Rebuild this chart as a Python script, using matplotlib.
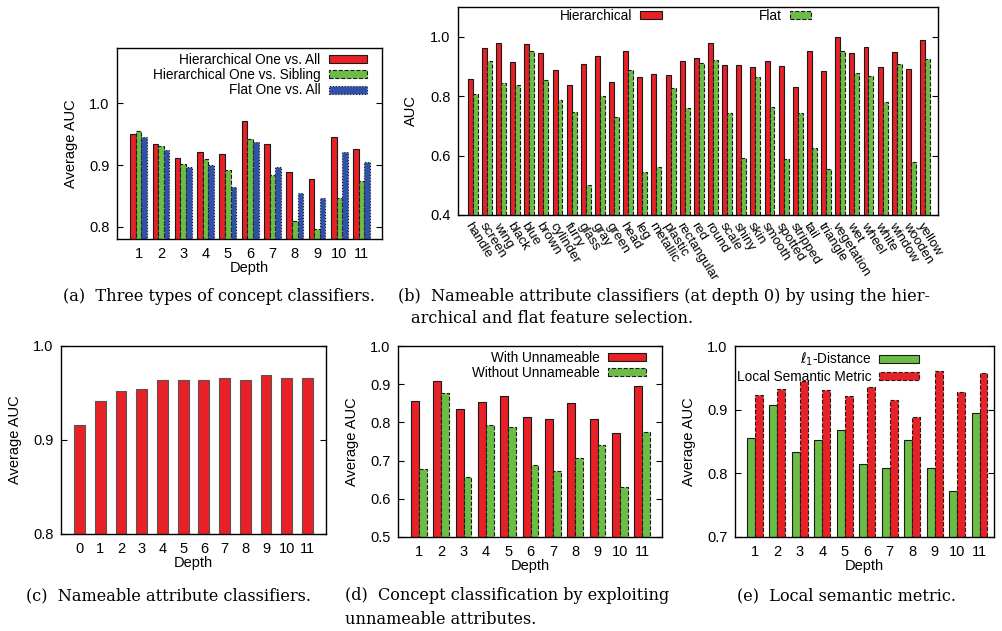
import numpy as np
import matplotlib
matplotlib.use("Agg")
from matplotlib.figure import Figure
from matplotlib.ticker import FormatStrFormatter

plot_font = ["Liberation Sans", "DejaVu Sans"]
caption_font = ["DejaVu Serif"]

RED = "#e82127"
GREEN = "#6cbd45"
BLUE = "#2f52a8"
EDGE = "#1a1a1a"

W, H = 1003, 631

# (a) three types of concept classifiers, depth 1..11
depth = np.arange(1, 12)
hier_one_vs_all = [0.950, 0.934, 0.912, 0.922, 0.918, 0.971, 0.934, 0.888, 0.878, 0.945, 0.926]
hier_one_vs_sibling = [0.956, 0.931, 0.901, 0.910, 0.892, 0.942, 0.884, 0.810, 0.796, 0.846, 0.874]
flat_one_vs_all = [0.946, 0.925, 0.897, 0.900, 0.865, 0.938, 0.897, 0.855, 0.846, 0.922, 0.905]

# (b) nameable attribute classifiers at depth 0
attributes = ["handle", "screen", "wing", "black", "blue", "brown", "cylinder", "furry",
              "glass", "gray", "green", "head", "leg", "metallic", "plastic", "rectangular",
              "red", "round", "scale", "shiny", "skin", "smooth", "spotted", "stripped",
              "tail", "triangle", "vegetation", "wet", "wheel", "white", "window", "wooden",
              "yellow"]
attr_hierarchical = [0.857, 0.963, 0.978, 0.916, 0.974, 0.946, 0.888, 0.837,
                     0.908, 0.936, 0.846, 0.953, 0.864, 0.874, 0.871, 0.919,
                     0.930, 0.979, 0.904, 0.904, 0.898, 0.917, 0.903, 0.830,
                     0.953, 0.883, 0.999, 0.945, 0.967, 0.897, 0.949, 0.893,
                     0.989]
attr_flat = [0.807, 0.918, 0.843, 0.837, 0.952, 0.854, 0.788, 0.745,
             0.502, 0.801, 0.729, 0.888, 0.546, 0.562, 0.826, 0.761,
             0.913, 0.921, 0.744, 0.593, 0.863, 0.762, 0.589, 0.744,
             0.626, 0.554, 0.951, 0.878, 0.867, 0.780, 0.908, 0.578,
             0.924]

# (c) nameable attribute classifiers, depth 0..11
depth_all = np.arange(0, 12)
nameable_auc = [0.916, 0.942, 0.952, 0.954, 0.964, 0.964, 0.964, 0.966, 0.964, 0.969, 0.966, 0.966]

# (d) concept classification with / without unnameable attributes
with_unnameable = [0.855, 0.908, 0.834, 0.854, 0.868, 0.815, 0.808, 0.852, 0.808, 0.771, 0.895]
without_unnameable = [0.679, 0.877, 0.656, 0.794, 0.788, 0.688, 0.672, 0.706, 0.740, 0.631, 0.775]

# (e) local semantic metric
l1_distance = [0.855, 0.907, 0.834, 0.853, 0.868, 0.815, 0.808, 0.852, 0.808, 0.772, 0.895]
local_semantic = [0.923, 0.932, 0.945, 0.931, 0.922, 0.936, 0.915, 0.888, 0.961, 0.928, 0.957]


def add_axes_px(figure, x0, y0, x1, y1):
    return figure.add_axes([x0 / W, 1 - y1 / H, (x1 - x0) / W, (y1 - y0) / H])


def style_axes(ax, ylim, yticks, xlim, xticks):
    ax.set_xlim(*xlim)
    ax.set_ylim(*ylim)
    ax.set_yticks(yticks)
    ax.set_xticks(xticks)
    ax.yaxis.set_major_formatter(FormatStrFormatter("%.1f"))
    ax.tick_params(axis="y", direction="in", length=4, width=0.8, right=True, pad=5.5, labelsize=10.5)
    ax.tick_params(axis="x", length=0, pad=5.5, labelsize=10.5)
    for spine in ax.spines.values():
        spine.set_linewidth(1.0)
        spine.set_color("black")


def draw_groups(ax, x, series, width):
    n = len(series)
    styles = ["-", "--", ":"]
    for i, (values, color, label) in enumerate(series):
        offset = (i - (n - 1) / 2) * width
        ax.bar(x + offset, values, width=width, color=color, edgecolor=EDGE,
               linewidth=0.8, linestyle=styles[i], label=label)


def gnuplot_legend(ax, anchor, handlelength, loc="upper right", ncol=1, columnspacing=2.0):
    ax.legend(loc=loc, bbox_to_anchor=anchor, frameon=False, markerfirst=False, ncol=ncol,
              prop={"family": plot_font, "size": 9.8}, handlelength=handlelength,
              handleheight=0.55, handletextpad=0.6, labelspacing=0.1, borderpad=0,
              borderaxespad=0, columnspacing=columnspacing)


def caption(figure, x, y, text):
    figure.text(x / W, 1 - y / H, text, family=caption_font, size=11.6, ha="left", va="center")


figure = Figure(figsize=(W / 100, H / 100), dpi=100)
figure.patch.set_facecolor("white")
matplotlib.rcParams["font.family"] = plot_font

# (a)
ax = add_axes_px(figure, 117, 48, 382, 239)
draw_groups(ax, depth, [(hier_one_vs_all, RED, "Hierarchical One vs. All"),
                        (hier_one_vs_sibling, GREEN, "Hierarchical One vs. Sibling"),
                        (flat_one_vs_all, BLUE, "Flat One vs. All")], 0.25)
style_axes(ax, (0.78, 1.09), [0.8, 0.9, 1.0], (0.03, 11.91), depth)
ax.set_xlabel("Depth", fontsize=10.5, labelpad=0)
ax.set_ylabel("Average AUC", fontsize=10.5, labelpad=8)
gnuplot_legend(ax, (0.943, 0.975), 2.8)

# (b)
ax = add_axes_px(figure, 458, 7, 938, 215)
xb = np.arange(len(attributes))
draw_groups(ax, xb, [(attr_hierarchical, RED, "Hierarchical"),
                     (attr_flat, GREEN, "Flat")], 0.35)
style_axes(ax, (0.4, 1.1), [0.4, 0.6, 0.8, 1.0], (-1.04, 32.92), xb)
ax.set_xticklabels(attributes, rotation=-58, ha="left", va="top", rotation_mode="anchor", fontsize=9.5)
ax.tick_params(axis="x", pad=4)
ax.set_ylabel("AUC", fontsize=10.5, labelpad=9)
gnuplot_legend(ax, (0.474, 0.99), 1.6, loc="upper center", ncol=2, columnspacing=7.1)

# (c)
ax = add_axes_px(figure, 61, 346, 326, 534)
ax.bar(depth_all, nameable_auc, width=0.52, color=RED, edgecolor="#555555", linewidth=0.8)
style_axes(ax, (0.8, 1.0), [0.8, 0.9, 1.0], (-0.89, 11.89), depth_all)
ax.set_xlabel("Depth", fontsize=10.5, labelpad=0)
ax.set_ylabel("Average AUC", fontsize=10.5, labelpad=8)

# (d)
ax = add_axes_px(figure, 398, 346, 662, 537)
draw_groups(ax, depth, [(with_unnameable, RED, "With Unnameable"),
                        (without_unnameable, GREEN, "Without Unnameable")], 0.35)
style_axes(ax, (0.5, 1.0), [0.5, 0.6, 0.7, 0.8, 0.9, 1.0], (0.06, 11.89), depth)
ax.set_xlabel("Depth", fontsize=10.5, labelpad=0)
ax.set_ylabel("Average AUC", fontsize=10.5, labelpad=8)
gnuplot_legend(ax, (0.939, 0.975), 2.8)

# (e)
ax = add_axes_px(figure, 735, 346, 994, 537)
draw_groups(ax, depth, [(l1_distance, GREEN, r"$\ell_1$-Distance"),
                        (local_semantic, RED, "Local Semantic Metric")], 0.35)
style_axes(ax, (0.7, 1.0), [0.7, 0.8, 0.9, 1.0], (0.12, 11.64), depth)
ax.set_xlabel("Depth", fontsize=10.5, labelpad=0)
ax.set_ylabel("Average AUC", fontsize=10.5, labelpad=8)
gnuplot_legend(ax, (0.71, 0.975), 2.9)

caption(figure, 63, 297, "(a)  Three types of concept classifiers.")
caption(figure, 398, 297, "(b)  Nameable attribute classifiers (at depth 0) by using the hier-")
caption(figure, 411, 319, "archical and flat feature selection.")
caption(figure, 26, 596, "(c)  Nameable attribute classifiers.")
caption(figure, 345, 596, "(d)  Concept classification by exploiting")
caption(figure, 345, 619, "unnameable attributes.")
caption(figure, 737, 596, "(e)  Local semantic metric.")

figure.savefig("out.png", dpi=100)
